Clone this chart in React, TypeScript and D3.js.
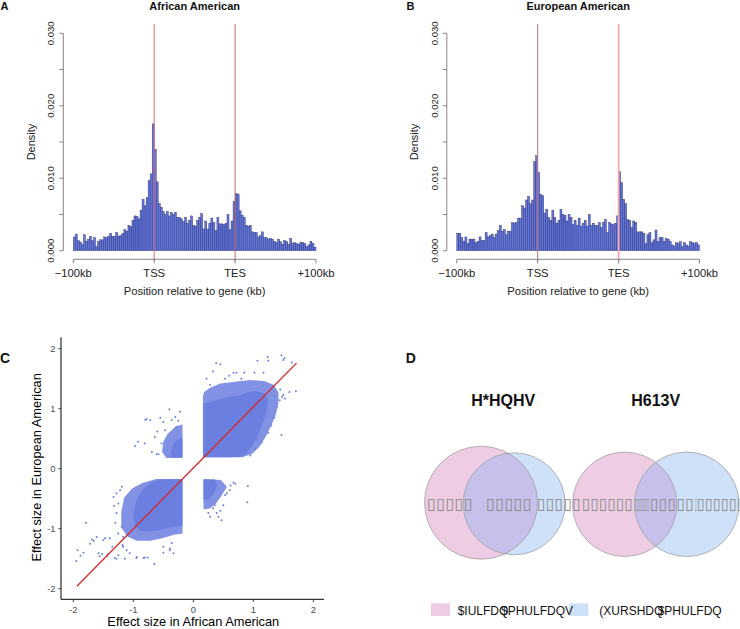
import React from 'react';
import * as d3 from 'd3';

// ---------- Panel A / B : density histograms (values in units of 0.001) ----------
const aaDensity = [
  1.9, 2.3, 1.4, 1.2, 0.9, 2.2, 1.3, 1.6, 2.0, 1.4,
  1.8, 0.6, 1.3, 1.5, 1.5, 1.9, 1.8, 2.0, 2.4, 2.0,
  2.0, 2.5, 2.0, 2.1, 2.4, 2.9, 2.7, 3.5, 3.3, 4.2,
  4.8, 4.7, 4.4, 5.6, 7.1, 6.2, 7.3, 9.7, 10.6, 17.5,
  14.0, 9.5, 6.5, 6.0, 5.4, 5.0, 5.4, 4.8, 5.3, 5.0,
  5.3, 4.6, 4.6, 4.4, 4.0, 4.6, 3.8, 4.2, 4.8, 3.5,
  3.4, 4.2, 4.6, 5.1, 3.0, 4.1, 3.0, 3.8, 4.5, 3.9,
  2.8, 4.6, 3.7, 3.7, 3.6, 3.8, 5.0, 2.9, 4.1, 6.8,
  7.9, 7.8, 5.5, 4.9, 4.6, 3.5, 3.4, 3.5, 2.6, 2.5,
  2.5, 1.9, 2.1, 2.6, 1.8, 1.8, 1.6, 1.7, 1.6, 1.3,
  1.15, 1.6, 1.25, 0.9, 1.4, 1.25, 0.9, 1.7, 1.0, 1.1,
  1.0, 0.9, 1.15, 1.1, 1.0, 0.55, 0.8, 1.3, 1.0, 0.5,
];
const eaDensity = [
  2.4, 2.4, 1.8, 1.3, 1.9, 1.0, 1.6, 1.6, 1.6, 1.1,
  1.3, 1.9, 1.4, 1.4, 2.5, 1.9, 2.1, 2.3, 1.8, 2.3,
  2.8, 3.5, 2.7, 2.9, 2.2, 2.7, 2.7, 3.9, 3.8, 3.9,
  4.5, 4.5, 6.2, 5.9, 7.0, 7.5, 6.5, 7.0, 12.3, 13.1,
  10.8, 7.8, 7.6, 5.2, 5.7, 4.6, 4.2, 5.6, 4.6, 3.8,
  4.2, 5.7, 5.0, 4.9, 4.1, 5.0, 4.6, 3.6, 4.2, 3.5,
  4.5, 3.4, 3.8, 4.2, 3.4, 5.0, 3.5, 3.8, 3.5, 3.5,
  3.9, 3.2, 3.9, 4.3, 2.5, 3.9, 3.7, 3.6, 3.8, 4.8,
  10.9, 9.4, 7.1, 6.5, 4.3, 4.2, 3.2, 4.1, 3.9, 2.6,
  2.6, 2.6, 2.4, 1.0, 2.2, 2.5, 1.1, 1.5, 2.85, 1.25,
  1.8, 1.8, 1.3, 1.7, 1.6, 1.3, 0.8, 0.65, 1.1, 1.0,
  1.25, 0.55, 1.1, 0.8, 0.65, 1.25, 1.1, 1.0, 1.15, 0.8,
];
const positionTicks = [0, 40, 80, 120];
const positionLabels = ['\u2212100kb', 'TSS', 'TES', '+100kb'];
const densityTicks = [0, 0.005, 0.01, 0.015, 0.02, 0.025, 0.03];
const densityLabels = ['0.000', '', '0.010', '', '0.020', '', '0.030'];
const markerBins = [40, 80];

// ---------- Panel C : effect sizes ----------
const effectTicks = [-2, -1, 0, 1, 2];
const fitLine = [[-1.94, -1.96], [1.72, 1.76]];
const coreUR = [[0.17,0.19],[0.6,0.19],[0.78,0.2],[0.88,0.25],[0.97,0.36],[1.05,0.5],[1.12,0.66],[1.18,0.82],[1.23,1.0],[1.25,1.15],[1.2,1.25],[1.05,1.3],[0.9,1.27],[0.75,1.22],[0.6,1.2],[0.45,1.16],[0.3,1.12],[0.17,1.08]];
const fringeUR = [[0.16,0.19],[0.82,0.19],[0.98,0.25],[1.1,0.36],[1.2,0.52],[1.3,0.72],[1.38,0.92],[1.42,1.1],[1.42,1.27],[1.34,1.4],[1.18,1.46],[0.95,1.48],[0.7,1.45],[0.45,1.42],[0.28,1.35],[0.18,1.28],[0.16,1.2]];
const coreLL = [[-0.18,-0.18],[-0.55,-0.18],[-0.68,-0.22],[-0.8,-0.3],[-0.9,-0.42],[-0.96,-0.58],[-1.0,-0.78],[-0.98,-0.95],[-0.88,-1.04],[-0.72,-1.05],[-0.55,-1.02],[-0.38,-0.98],[-0.18,-0.95]];
const fringeLL = [[-0.18,-0.17],[-0.62,-0.17],[-0.85,-0.24],[-1.02,-0.33],[-1.15,-0.48],[-1.2,-0.72],[-1.2,-0.98],[-1.1,-1.13],[-0.94,-1.2],[-0.72,-1.2],[-0.52,-1.16],[-0.32,-1.1],[-0.18,-1.08]];
const coreUL = [[-0.18,0.19],[-0.36,0.19],[-0.38,0.27],[-0.34,0.4],[-0.28,0.48],[-0.18,0.52]];
const fringeUL = [[-0.18,0.18],[-0.45,0.18],[-0.52,0.28],[-0.5,0.45],[-0.43,0.58],[-0.3,0.7],[-0.18,0.74]];
const coreLR = [[0.17,-0.18],[0.36,-0.18],[0.4,-0.28],[0.34,-0.42],[0.26,-0.5],[0.17,-0.52]];
const fringeLR = [[0.17,-0.17],[0.46,-0.19],[0.56,-0.3],[0.47,-0.45],[0.38,-0.58],[0.28,-0.66],[0.17,-0.68]];
const outlierPoints = [
  [-1.95,-1.54],[-1.93,-1.36],[-1.79,-0.9],[-1.69,-1.18],[-1.83,-1.4],[-1.58,-1.41],[-1.42,-1.42],
  [-1.28,-1.5],[-1.14,-1.5],[-0.95,-1.49],[-0.81,-1.48],[-0.65,-1.59],[-0.5,-1.4],[-0.39,-1.36],
  [-0.36,-1.24],[-1.18,-1.27],[-1.11,-1.36],[-1.47,-1.16],[-1.28,-0.41],[-1.19,-0.3],[-1.25,-0.58],
  [-1.61,-1.14],[-1.56,-1.46],[-1.44,-1.46],[-1.31,-1.49],[-1.25,-1.44],[-1.17,-1.14],[-1.5,-1.19],
  [-1.39,-1.16],[-0.94,-1.47],[-0.83,-1.49],[-0.76,-1.48],[-0.5,-1.3],[-0.39,-1.33],[-0.33,-1.41],
  [-1.17,-1.3],[-1.06,-1.41],[-1.33,-0.47],[-1.22,-0.36],[-1.28,-0.74],[-1.19,-0.97],[-1.25,-1.08],
  [-1.72,-1.25],[-1.66,-1.2],[-1.88,-1.45],[-1.52,-1.42],[-1.35,-1.3],[-1.3,-0.9],[-1.32,-0.62],
  [-0.97,0.38],[-0.8,0.81],[-0.72,0.81],[-0.55,0.85],[-0.4,0.99],[-0.22,0.95],[-0.64,0.53],
  [-0.69,0.28],[-0.58,0.24],[-0.81,0.42],[-0.47,0.64],[-0.36,0.81],[-0.28,0.7],[-0.53,0.42],
  [-0.78,0.83],[-0.92,0.45],[-0.61,0.24],[-0.6,0.62],[-0.5,0.78],[-0.3,0.86],[-0.25,0.8],
  [0.7,-0.25],[0.91,-0.29],[0.9,-0.56],[0.47,-0.86],[0.42,-0.8],[0.28,-0.8],[0.53,-0.44],
  [0.61,-0.36],[0.36,-0.61],[0.5,-0.61],[0.67,-0.23],[0.56,-0.41],[0.39,-0.74],[0.33,-0.66],
  [0.45,-0.7],[0.62,-0.28],[0.25,-0.74],
  [1.47,1.89],[1.5,1.81],[1.25,1.8],[1.07,1.8],[0.38,1.76],[0.45,1.74],[0.33,1.62],[0.67,1.6],
  [0.72,1.6],[1.02,1.6],[1.17,1.6],[1.64,1.77],[1.71,1.29],[1.6,1.28],[1.47,0.56],[1.36,1.22],
  [1.53,1.17],[1.3,0.72],[1.14,0.44],[1.03,0.33],[0.28,1.4],[0.53,1.5],[0.8,1.5],[1.52,1.84],
  [1.24,1.86],[1.44,1.14],[1.5,1.23],[1.39,1.03],[1.22,0.87],[1.06,0.48],[0.85,1.6],[0.6,1.55],
  [0.22,1.5],[1.45,1.32],[1.48,1.2],[1.35,0.85],[0.95,0.22],[1.25,0.6],
];

// ---------- Panel D : Venn ----------
const vennTitles = ['H*HQHV', 'H613V'];
const vennLegend = ['$IULFDQ', '$PHULFDQV', '(XURSHDQ', '$PHULFDQ'];
const vennCircles = [
  { cx: 481, cy: 502.7, r: 56.5, set: 'AA' },
  { cx: 514.2, cy: 503.8, r: 51, set: 'EA' },
  { cx: 624.7, cy: 504.3, r: 52.2, set: 'AA' },
  { cx: 686.7, cy: 504.3, r: 52.3, set: 'EA' },
];
const vennCountGlyphs = [
  { x0: 427, x1: 473, n: 5 },
  { x0: 486, x1: 532, n: 5 },
  { x0: 537, x1: 581, n: 5 },
  { x0: 582, x1: 633, n: 6 },
  { x0: 634, x1: 649, n: 6 },
  { x0: 650, x1: 694, n: 5 },
  { x0: 695, x1: 697, n: 1 },
  { x0: 697, x1: 745, n: 6 },
];

const FONT = "'Liberation Sans', Arial, Helvetica, sans-serif";
const PINK = '#eecde4';
const BLUE = '#cee1f8';
const OVERLAP = '#c7c0eb';
const DOT = '#6b7fe1';

function Histogram({ values, dx, title, letter, lineColors, lineWidths }: any) {
  const xs = d3.scaleLinear().domain([0, values.length]).range([73.3 + dx, 316 + dx]);
  const ys = d3.scaleLinear().domain([0, 0.03]).range([250.7, 33.3]);
  const yAxisX = 63.3 + dx;
  const xAxisY = 259.3;
  const cx = (xs(0) + xs(values.length)) / 2;
  return (
    <g fontFamily={FONT}>
      <text x={dx === 0 ? 0.5 : 406.5} y={9.5} fontSize={11} fontWeight="bold" fill="#111">{letter}</text>
      <text x={cx} y={9.5} fontSize={11} fontWeight="bold" textAnchor="middle" fill="#111">{title}</text>
      {values.map((v: number, i: number) => (
        <rect key={i} x={xs(i)} y={ys(v / 1000)} width={xs(i + 1) - xs(i)} height={ys(0) - ys(v / 1000)}
          fill="#6175e0" stroke="#2a2c62" strokeWidth={0.4} />
      ))}
      {markerBins.map((b, i) => (
        <line key={i} x1={xs(b)} x2={xs(b)} y1={24} y2={261} stroke={lineColors[i]} strokeWidth={lineWidths[i]} />
      ))}
      <line x1={yAxisX} x2={yAxisX} y1={ys(0)} y2={ys(0.03)} stroke="#777" strokeWidth={0.9} />
      {densityTicks.map((t, i) => (
        <g key={i}>
          <line x1={yAxisX - 4} x2={yAxisX} y1={ys(t)} y2={ys(t)} stroke="#777" strokeWidth={0.9} />
          {densityLabels[i] && (
            <text transform={`translate(${yAxisX - 9.3},${ys(t)}) rotate(-90)`} fontSize={9.6} textAnchor="middle" fill="#222">{densityLabels[i]}</text>
          )}
        </g>
      ))}
      <text transform={`translate(${34.6 + dx},142) rotate(-90)`} fontSize={11} textAnchor="middle" fill="#222">Density</text>
      <line x1={xs(0)} x2={xs(values.length)} y1={xAxisY} y2={xAxisY} stroke="#777" strokeWidth={0.9} />
      {positionTicks.map((t, i) => (
        <g key={i}>
          <line x1={xs(t)} x2={xs(t)} y1={xAxisY} y2={xAxisY + 4} stroke="#777" strokeWidth={0.9} />
          <text x={xs(t)} y={276.5} fontSize={11.2} textAnchor="middle" fill="#222">{positionLabels[i]}</text>
        </g>
      ))}
      <text x={cx} y={294.5} fontSize={11.2} textAnchor="middle" fill="#222">Position relative to gene (kb)</text>
    </g>
  );
}

function Scatter() {
  const xs = d3.scaleLinear().domain([-2, 2]).range([73.3, 313.3]);
  const ys = d3.scaleLinear().domain([-2, 2]).range([588.7, 348.7]);
  const poly = d3.line<number[]>().x(d => xs(d[0])).y(d => ys(d[1])).curve(d3.curveLinearClosed);
  const fringes = [fringeUR, fringeLL, fringeUL, fringeLR];
  const cores = [coreUR, coreLL, coreUL, coreLR];
  return (
    <g fontFamily={FONT}>
      <text x={0} y={363} fontSize={14} fontWeight="bold" fill="#111">C</text>
      {fringes.map((p, i) => <path key={'f' + i} d={poly(p) || ''} fill={DOT} opacity={0.85} />)}
      {cores.map((p, i) => <path key={'c' + i} d={poly(p) || ''} fill={DOT} />)}
      {outlierPoints.map((p, i) => <circle key={i} cx={xs(p[0])} cy={ys(p[1])} r={1} fill={DOT} />)}
      <line x1={xs(fitLine[0][0])} y1={ys(fitLine[0][1])} x2={xs(fitLine[1][0])} y2={ys(fitLine[1][1])} stroke="#d42a2a" strokeWidth={1.3} />
      <line x1={61} x2={61} y1={337.3} y2={599.3} stroke="#000" strokeWidth={1} />
      <line x1={61} x2={324} y1={599.3} y2={599.3} stroke="#000" strokeWidth={1} />
      {effectTicks.map((t, i) => (
        <g key={i}>
          <line x1={58.3} x2={61} y1={ys(t)} y2={ys(t)} stroke="#333" strokeWidth={0.9} />
          <text x={55.5} y={ys(t)} dy="0.35em" fontSize={9.4} textAnchor="end" fill="#4d4d4d">{t}</text>
          <line x1={xs(t)} x2={xs(t)} y1={599.3} y2={602} stroke="#333" strokeWidth={0.9} />
          <text x={xs(t)} y={613.3} fontSize={9.4} textAnchor="middle" fill="#4d4d4d">{t}</text>
        </g>
      ))}
      <text x={193.3} y={626} fontSize={12.8} textAnchor="middle" fill="#000">Effect size in African American</text>
      <text transform="translate(41,467.3) rotate(-90)" fontSize={12.8} textAnchor="middle" fill="#000">Effect size in European American</text>
    </g>
  );
}

function Venn() {
  return (
    <g fontFamily={FONT}>
      <defs>
        <clipPath id="clipEA1"><circle cx={vennCircles[1].cx} cy={vennCircles[1].cy} r={vennCircles[1].r} /></clipPath>
        <clipPath id="clipEA2"><circle cx={vennCircles[3].cx} cy={vennCircles[3].cy} r={vennCircles[3].r} /></clipPath>
      </defs>
      <text x={405.7} y={363} fontSize={14} fontWeight="bold" fill="#111">D</text>
      <text x={503.3} y={406} fontSize={16} fontWeight="bold" textAnchor="middle" fill="#111">{vennTitles[0]}</text>
      <text x={655.7} y={406} fontSize={16} fontWeight="bold" textAnchor="middle" fill="#111">{vennTitles[1]}</text>
      {vennCircles.map((c, i) => (
        <circle key={i} cx={c.cx} cy={c.cy} r={c.r} fill={c.set === 'AA' ? PINK : BLUE} />
      ))}
      <circle cx={vennCircles[0].cx} cy={vennCircles[0].cy} r={vennCircles[0].r} fill={OVERLAP} clipPath="url(#clipEA1)" />
      <circle cx={vennCircles[2].cx} cy={vennCircles[2].cy} r={vennCircles[2].r} fill={OVERLAP} clipPath="url(#clipEA2)" />
      {vennCircles.map((c, i) => (
        <circle key={'s' + i} cx={c.cx} cy={c.cy} r={c.r} fill="none" stroke="#9a9a9a" strokeWidth={0.7} />
      ))}
      {vennCountGlyphs.map((g, i) => (
        <text key={i} x={g.x0} y={508.5} fontSize={16} fontFamily="'DejaVu Sans', sans-serif" fill="#8c8c8c"
          textLength={g.x1 - g.x0} lengthAdjust="spacingAndGlyphs">{'\u25AF'.repeat(g.n)}</text>
      ))}
      <rect x={431} y={603.3} width={19} height={12.7} fill={PINK} />
      <rect x={569} y={603.3} width={19.3} height={12.7} fill={BLUE} />
      <text x={457.7} y={614.5} fontSize={12} fill="#111">{vennLegend[0]}</text>
      <text x={501} y={614.5} fontSize={12} fill="#111">{vennLegend[1]}</text>
      <text x={599.3} y={614.5} fontSize={12} fill="#111">{vennLegend[2]}</text>
      <text x={657.7} y={614.5} fontSize={12} fill="#111">{vennLegend[3]}</text>
    </g>
  );
}

export default function App() {
  return (
    <svg width={740} height={629} style={{ position: 'absolute', left: 0, top: 0, background: '#fff' }}>
      <rect width={740} height={629} fill="#fff" />
      <Histogram values={aaDensity} dx={0} title="African American" letter="A"
        lineColors={['#e06a6a', '#b86a6a']} lineWidths={[1, 1]} />
      <Histogram values={eaDensity} dx={383.5} title="European American" letter="B"
        lineColors={['#c87070', '#f2a8a8']} lineWidths={[1, 1.8]} />
      <Scatter />
      <Venn />
    </svg>
  );
}
